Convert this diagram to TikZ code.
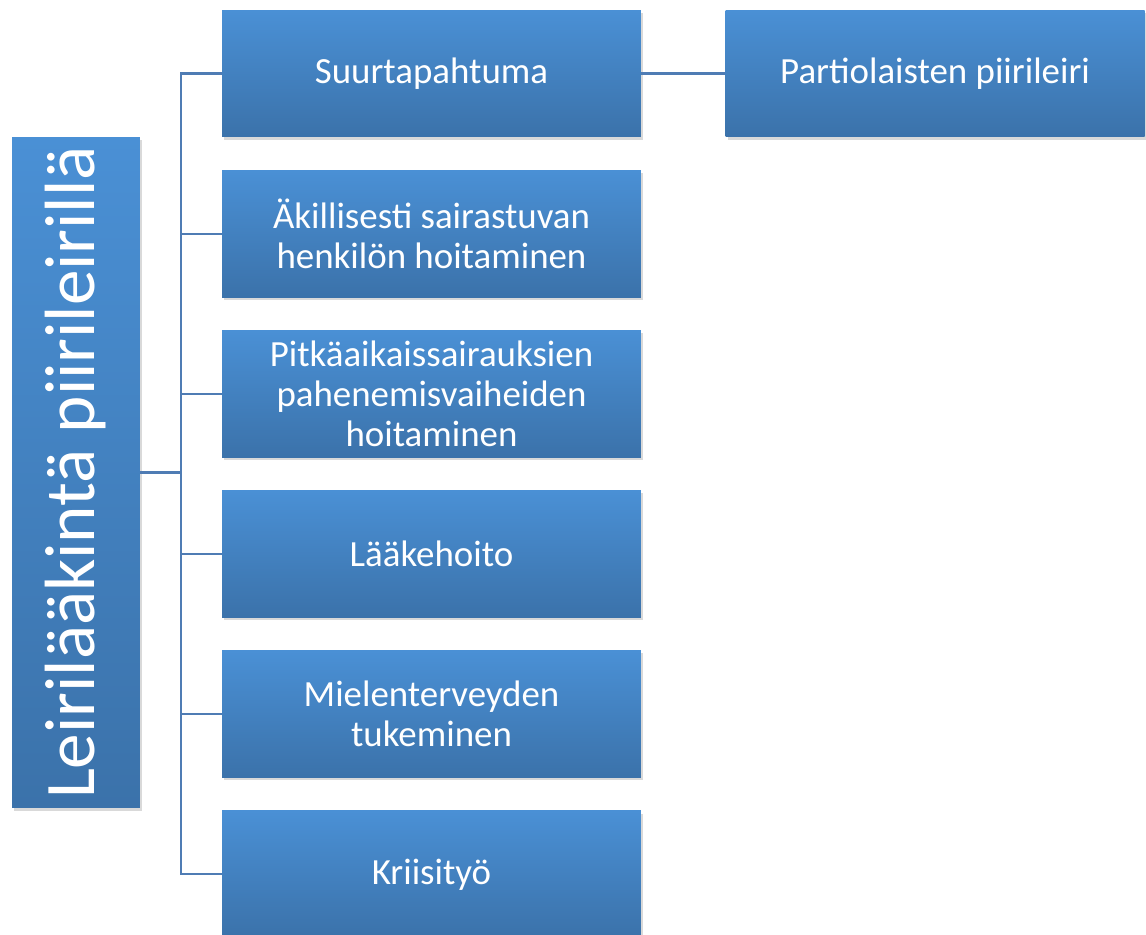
\documentclass[tikz,border=0pt]{standalone}
\usepackage{fontspec}
\setmainfont{Carlito}
\usetikzlibrary{positioning,shadows}

\definecolor{boxtop}{RGB}{74,144,213}
\definecolor{boxbot}{RGB}{59,114,170}
\definecolor{linecol}{RGB}{79,124,180}

\begin{document}
\begin{tikzpicture}[x=0.02cm, y=-0.02cm, node distance=0.65cm,
                    box/.style={rectangle, minimum width=8.38cm, minimum height=2.54cm,
                                top color=boxtop, bottom color=boxbot, draw=none,
                                text=white, align=center, inner sep=2pt,
                                font=\fontsize{21}{22.7}\selectfont,
                                drop shadow={shadow xshift=1.2pt, shadow yshift=-1.5pt, opacity=0.3}},
                    conn/.style={draw=linecol, line width=1.2pt}]
  \useasboundingbox (0,0) rectangle (1146,935);

  \node[box, minimum width=2.56cm, minimum height=13.42cm, inner sep=0pt] (lb) at (76,472.5)
       {\rotatebox{90}{\fontsize{40.5}{42}\selectfont Leirilääkintä piirileirillä}};

  \node[box] (s1) at (431.5,73.5) {Suurtapahtuma};
  \node[box] (s2) [below=of s1] {Äkillisesti sairastuvan\\henkilön hoitaminen};
  \node[box] (s3) [below=of s2] {Pitkäaikaissairauksien\\pahenemisvaiheiden\\hoitaminen};
  \node[box] (s4) [below=of s3] {Lääkehoito};
  \node[box] (s5) [below=of s4] {Mielenterveyden\\tukeminen};
  \node[box] (s6) [below=of s5] {Kriisityö};
  \node[box] (p1) [right=1.68cm of s1] {Partiolaisten piirileiri};

  \coordinate (j) at ([xshift=0.82cm]lb.east);
  \foreach \n in {s1,s2,s3,s4,s5,s6}
    \draw[conn] (lb.east) -- (j) |- (\n.west);
  \draw[conn] (s1.east) -- (p1.west);
\end{tikzpicture}
\end{document}
